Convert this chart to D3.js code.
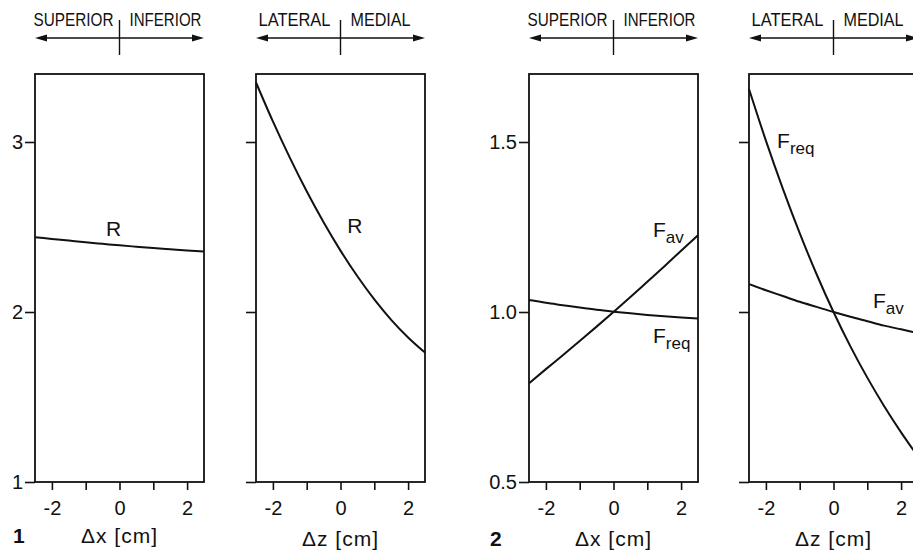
<!DOCTYPE html>
<html>
<head>
<meta charset="utf-8">
<script src="https://cdn.jsdelivr.net/npm/d3@7"></script>
<style>
  body { margin: 0; background: #fff; }
  svg text { font-family: "Liberation Sans", Arial, sans-serif; fill: #111; }
</style>
</head>
<body>
<div id="chart"></div>
<script>
// x grid (cm) shared by all curves
const gridX = [-2.5, -2, -1.5, -1, -0.5, 0, 0.5, 1, 1.5, 2, 2.5];
const xTicks = [-2, -1, 0, 1, 2];
const xLabeled = [-2, 0, 2];

// fig 1: R vs dx and dz
const rDx = [2.44, 2.43, 2.42, 2.41, 2.401, 2.392, 2.384, 2.376, 2.369, 2.362, 2.356];
const rDz = [3.35, 3.121, 2.908, 2.71, 2.528, 2.361, 2.21, 2.074, 1.954, 1.85, 1.761];
const rTicks = [1, 2, 3];

// fig 2: F_req and F_av vs dx and dz
const freqDx = [1.035, 1.027, 1.02, 1.013, 1.0065, 1.001, 0.996, 0.9915, 0.9875, 0.984, 0.981];
const favDx = [0.79, 0.832, 0.873, 0.915, 0.957, 1.0, 1.044, 1.089, 1.134, 1.18, 1.226];
const freqDz = [1.656, 1.504, 1.363, 1.232, 1.111, 1.0, 0.899, 0.807, 0.723, 0.646, 0.575];
const favDz = [1.082, 1.064, 1.047, 1.03, 1.015, 1.0, 0.986, 0.973, 0.96, 0.949, 0.938];
const fTicks = [0.5, 1.0, 1.5];

const W = 913, H = 557;
const svg = d3.select("#chart").append("svg")
  .attr("width", W)
  .attr("height", H);

const plotTop = 74, plotBottom = 482, pw = 169;

const yR = d3.scaleLinear().domain([1, 3.4]).range([plotBottom, plotTop]);
const yF = d3.scaleLinear().domain([0.5, 1.7]).range([plotBottom, plotTop]);

const panels = [
  { left: 35, y: yR, ticks: rTicks, fmt: d3.format("d"), labels: true, axis: "Δx [cm]", dir: ["SUPERIOR", "INFERIOR"],
    series: [{ v: rDx, name: "R", lx: -0.4, ly: 2.45 }], fig: "1" },
  { left: 256, y: yR, ticks: rTicks, labels: false, axis: "Δz [cm]", dir: ["LATERAL", "MEDIAL"],
    series: [{ v: rDz, name: "R", lx: 0.2, ly: 2.465 }] },
  { left: 529, y: yF, ticks: fTicks, fmt: d3.format(".1f"), labels: true, axis: "Δx [cm]", dir: ["SUPERIOR", "INFERIOR"],
    series: [{ v: favDx, name: "F", sub: "av", lx: 1.17, ly: 1.22 },
             { v: freqDx, name: "F", sub: "req", lx: 1.17, ly: 0.909 }], fig: "2" },
  { left: 749, y: yF, ticks: fTicks, labels: false, axis: "Δz [cm]", dir: ["LATERAL", "MEDIAL"],
    series: [{ v: freqDz, name: "F", sub: "req", lx: -1.67, ly: 1.482 },
             { v: favDz, name: "F", sub: "av", lx: 1.17, ly: 1.012 }] }
];

panels.forEach(function(p) {
  const x = d3.scaleLinear().domain([-2.5, 2.5]).range([p.left, p.left + pw]);
  const g = svg.append("g");

  // axes
  const xAxis = d3.axisBottom(x)
    .tickValues(xTicks)
    .tickSize(8)
    .tickSizeOuter(0)
    .tickPadding(11)
    .tickFormat(d => xLabeled.includes(d) ? (d < 0 ? "-" + (-d) : String(d)) : "");
  const gx = g.append("g").attr("transform", `translate(0,${plotBottom})`).call(xAxis);

  const yAxis = d3.axisLeft(p.y)
    .tickValues(p.ticks)
    .tickSize(10)
    .tickSizeOuter(0)
    .tickPadding(2)
    .tickFormat(d => p.labels ? p.fmt(d) : "");
  const gy = g.append("g").attr("transform", `translate(${p.left},0)`).call(yAxis);

  [gx, gy].forEach(a => {
    a.select(".domain").remove();
    a.selectAll("line").attr("stroke", "#111").attr("stroke-width", 1.6);
    a.selectAll("text").style("font-size", "20px").attr("fill", "#111");
  });

  // frame
  g.append("rect")
    .attr("x", p.left).attr("y", plotTop)
    .attr("width", pw).attr("height", plotBottom - plotTop)
    .attr("fill", "none").attr("stroke", "#111").attr("stroke-width", 1.8);

  // curves
  p.series.forEach(function(s) {
    const line = d3.line()
      .x((d, i) => x(gridX[i]))
      .y(d => p.y(d))
      .curve(d3.curveMonotoneX);
    g.append("path")
      .datum(s.v)
      .attr("d", line)
      .attr("fill", "none")
      .attr("stroke", "#111")
      .attr("stroke-width", 2);

    const t = g.append("text")
      .attr("x", x(s.lx))
      .attr("y", p.y(s.ly))
      .style("font-size", "21px")
      .text(s.name);
    if (s.sub) {
      t.append("tspan")
        .attr("dy", 6)
        .style("font-size", "17px")
        .text(s.sub);
    }
  });

  // direction arrow above panel
  const ay = 38, x0 = x(-2.5), x1 = x(2.5), xm = x(0);
  g.append("line")
    .attr("x1", x0 + 6).attr("x2", x1 - 6)
    .attr("y1", ay).attr("y2", ay)
    .attr("stroke", "#111").attr("stroke-width", 1.6);
  g.append("path")
    .attr("d", `M${x0},${ay}L${x0 + 12},${ay - 3.5}L${x0 + 12},${ay + 3.5}Z`)
    .attr("fill", "#111");
  g.append("path")
    .attr("d", `M${x1},${ay}L${x1 - 12},${ay - 3.5}L${x1 - 12},${ay + 3.5}Z`)
    .attr("fill", "#111");
  g.append("line")
    .attr("x1", xm).attr("x2", xm)
    .attr("y1", 20).attr("y2", 55)
    .attr("stroke", "#111").attr("stroke-width", 1.4);

  const sup = p.dir[0] === "SUPERIOR";
  g.append("text")
    .attr("x", xm - (sup ? 6 : 10))
    .attr("y", 26)
    .attr("text-anchor", "end")
    .attr("textLength", sup ? 80 : 72)
    .attr("lengthAdjust", "spacingAndGlyphs")
    .style("font-size", "18px")
    .text(p.dir[0]);
  g.append("text")
    .attr("x", xm + 10)
    .attr("y", 26)
    .attr("textLength", sup ? 72 : 60)
    .attr("lengthAdjust", "spacingAndGlyphs")
    .style("font-size", "18px")
    .text(p.dir[1]);

  // axis title
  g.append("text")
    .attr("x", x(0))
    .attr("y", p.left < 100 ? 543 : 546)
    .attr("text-anchor", "middle")
    .style("font-size", "21px")
    .style("letter-spacing", "1px")
    .text(p.axis);

  if (p.fig) {
    g.append("text")
      .attr("x", p.left - (p.fig === "1" ? 22 : 39))
      .attr("y", p.left < 100 ? 543 : 546)
      .style("font-size", "21px")
      .style("font-weight", "bold")
      .text(p.fig);
  }
});
</script>
</body>
</html>
